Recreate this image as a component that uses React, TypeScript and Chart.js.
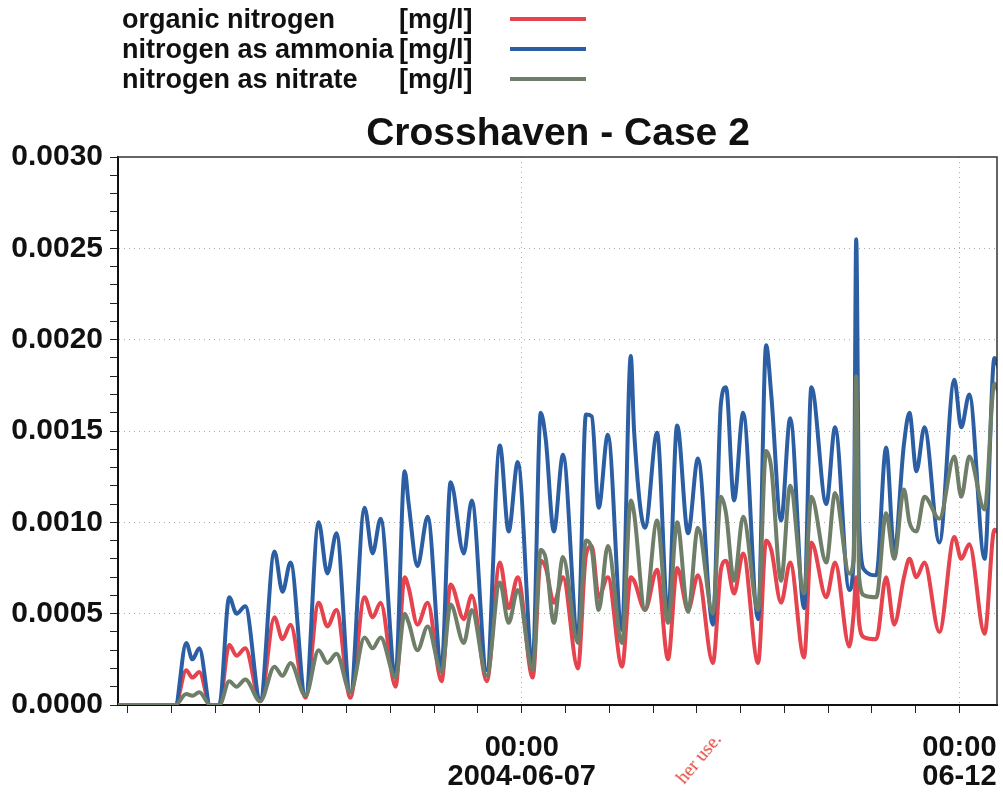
import React, { useEffect, useRef } from "react";
import { Chart, registerables } from "chart.js";

Chart.register(...registerables);

// ---- data (hours since 2004-06-02 00:00) ----
const hours = [
  9.3, 25.0, 28.0, 29.7, 31.6, 34.6, 37.1, 39.8, 41.8, 44.2, 48.3, 52.2, 54.4, 56.6, 60.7,
  64.3, 66.7, 69.2, 73.0, 76.9, 79.1, 81.3, 85.4, 87.9, 89.0, 91.4, 94.2, 98.0, 100.5, 104.1,
  106.3, 110.4, 114.0, 116.4, 118.9, 123.0, 125.2, 126.6, 128.8, 131.3, 135.4, 137.6, 139.2,
  141.1, 143.6, 147.5, 149.9, 150.8, 153.8, 157.1, 160.1, 162.6, 165.6, 168.3, 172.4, 174.6,
  176.0, 178.2, 180.7, 184.8, 187.0, 188.4, 191.1, 193.6, 197.4, 199.4, 203.5, 205.9, 209.8,
  211.0, 211.7, 212.5, 213.9, 217.2, 219.9, 222.1, 224.8, 226.3, 228.2, 230.4, 234.5, 238.6,
  240.5, 242.7, 246.9, 249.6, 251.0,
];

const organicNitrogen = [
  0, 0, 0.00019, 0.00015, 0.00018, 0, 0, 0.00033, 0.00027, 0.00031, 0.00002, 0.00048, 0.00036,
  0.00044, 0.00004, 0.00056, 0.00043, 0.00052, 0.00004, 0.00059, 0.00048, 0.00056, 0.0001,
  0.0007, 0.00064, 0.00044, 0.00056, 0.00013, 0.00066, 0.00047, 0.0006, 0.00013, 0.00078,
  0.00053, 0.0007, 0.00015, 0.00079, 0.00075, 0.00056, 0.0007, 0.0002, 0.00082, 0.00087,
  0.00059, 0.0007, 0.00021, 0.0007, 0.00068, 0.00052, 0.00074, 0.00025, 0.00075, 0.00052,
  0.00071, 0.00023, 0.00074, 0.00079, 0.00061, 0.00083, 0.00023, 0.0009, 0.00085, 0.00056,
  0.00078, 0.00026, 0.00089, 0.00059, 0.00078, 0.00032, 0.0005, 0.0007, 0.00045, 0.00037,
  0.00036, 0.0007, 0.00044, 0.0007, 0.0008, 0.0007, 0.00078, 0.0004, 0.00092, 0.0008, 0.00088,
  0.00039, 0.00096, 0.00094,
];

const ammoniaNitrogen = [
  0, 0, 0.00034, 0.00025, 0.00031, 0, 0, 0.00059, 0.0005, 0.00054, 0.00003, 0.00084, 0.00062,
  0.00078, 0.00005, 0.001, 0.00072, 0.00094, 0.00007, 0.00108, 0.00083, 0.00102, 0.00016,
  0.00128, 0.0011, 0.00076, 0.00103, 0.00021, 0.00122, 0.00083, 0.00112, 0.00019, 0.00142,
  0.00095, 0.00133, 0.00023, 0.0016, 0.00145, 0.00095, 0.00137, 0.00037, 0.00159, 0.00158,
  0.00108, 0.00148, 0.00041, 0.00191, 0.0015, 0.00097, 0.00149, 0.00048, 0.00153, 0.00094,
  0.00135, 0.00044, 0.00165, 0.00174, 0.00112, 0.0016, 0.00047, 0.00197, 0.0017, 0.00101,
  0.00157, 0.00053, 0.00174, 0.0011, 0.00152, 0.00063, 0.0008, 0.00255, 0.001, 0.00074,
  0.00071, 0.00141, 0.00085, 0.00143, 0.0016, 0.00128, 0.00152, 0.00089, 0.00178, 0.00152,
  0.0017, 0.0008, 0.0019, 0.00183,
];

const nitrateNitrogen = [
  0, 0, 0.00006, 0.00005, 0.00007, 0, 0, 0.00013, 0.0001, 0.00014, 0.00002, 0.00021, 0.00016,
  0.00023, 0.00005, 0.0003, 0.00023, 0.00028, 0.00007, 0.00037, 0.00031, 0.00037, 0.00015,
  0.0005, 0.00045, 0.0003, 0.00043, 0.00018, 0.00055, 0.00034, 0.00052, 0.00016, 0.00067,
  0.00045, 0.00063, 0.00019, 0.00085, 0.0008, 0.00045, 0.00081, 0.00034, 0.0009, 0.00085,
  0.00052, 0.00087, 0.00034, 0.00112, 0.00105, 0.00052, 0.00101, 0.00045, 0.001, 0.00051,
  0.00097, 0.0005, 0.00114, 0.00105, 0.00068, 0.00103, 0.00052, 0.00139, 0.0013, 0.00068,
  0.0012, 0.00061, 0.00114, 0.00078, 0.00116, 0.00072, 0.0008, 0.0018, 0.0007, 0.0006,
  0.00059, 0.00105, 0.0008, 0.00118, 0.001, 0.00095, 0.00114, 0.00102, 0.00136, 0.00114,
  0.00136, 0.00107, 0.00176, 0.0017,
];

const seriesNames = ["organic nitrogen", "nitrogen as ammonia", "nitrogen as nitrate"];
const seriesUnit = "[mg/l]";
const chartTitle = "Crosshaven - Case 2";

const xTickHours = [12, 24, 36, 48, 60, 72, 84, 96, 108, 120, 132, 144, 156, 168, 180, 192, 204, 216, 228, 240];
const xLabelHours = [120, 240];
const xLabels = [["00:00", "2004-06-07"], ["00:00", "06-12"]];
const yMajorTicks = [0, 0.0005, 0.001, 0.0015, 0.002, 0.0025, 0.003];
const yMinorStep = 0.0001;

const RED = "#e5434d";
const BLUE = "#2b5ea3";
const GREY = "#6e7e69";
const GRID = "rgba(90,90,90,0.5)";
const FONT = '"Liberation Sans", Arial, Helvetica, sans-serif';

export default function App() {
  const canvasRef = useRef<HTMLCanvasElement | null>(null);

  useEffect(() => {
    document.body.style.margin = "0";
    const canvas = canvasRef.current;
    if (!canvas) return;

    const yTickValues: number[] = [];
    const nMinor = Math.round(yMajorTicks[yMajorTicks.length - 1] / yMinorStep);
    for (let i = 0; i <= nMinor; i++) yTickValues.push(Math.round(i) / 10000);

    const framePlugin = {
      id: "frame",
      afterDraw(chart: any) {
        const { ctx, chartArea } = chart;
        ctx.save();
        ctx.strokeStyle = "#333";
        ctx.lineWidth = 1.5;
        ctx.beginPath();
        ctx.moveTo(chartArea.left, chartArea.top);
        ctx.lineTo(chartArea.right, chartArea.top);
        ctx.lineTo(chartArea.right, chartArea.bottom);
        ctx.stroke();
        ctx.restore();
      },
    };

    const mk = (vals: number[]) => hours.map((h, i) => ({ x: h, y: vals[i] }));
    const ds = (label: string, vals: number[], color: string, order: number) => ({
      label,
      data: mk(vals),
      borderColor: color,
      borderWidth: 4,
      pointRadius: 0,
      cubicInterpolationMode: "monotone",
      order,
    });

    const chart = new Chart(canvas, {
      type: "line",
      data: {
        datasets: [
          ds(seriesNames[0], organicNitrogen, RED, 2),
          ds(seriesNames[1], ammoniaNitrogen, BLUE, 1),
          ds(seriesNames[2], nitrateNitrogen, GREY, 0),
        ],
      },
      options: {
        responsive: false,
        animation: false,
        events: [],
        layout: { padding: { top: 157, right: 6, left: 0, bottom: 0 } },
        plugins: {
          legend: { display: false },
          title: { display: false },
          tooltip: { enabled: false },
        },
        scales: {
          x: {
            type: "linear",
            min: 9.3,
            max: 250.3,
            afterBuildTicks: (s: any) => {
              s.ticks = xTickHours.map((v) => ({ value: v }));
            },
            afterFit: (s: any) => {
              s.height = 87;
              s.paddingLeft = 0;
              s.paddingRight = 0;
            },
            ticks: {
              autoSkip: false,
              maxRotation: 0,
              minRotation: 0,
              padding: 20,
              color: "#111",
              font: { family: FONT, size: 29, weight: "bold", lineHeight: 1.0 },
              callback: (v: any) => {
                const i = xLabelHours.indexOf(Number(v));
                return i >= 0 ? xLabels[i] : "";
              },
            },
            grid: {
              color: (c: any) => (c.tick && xLabelHours.includes(c.tick.value) ? GRID : "transparent"),
              tickColor: "#222",
              tickLength: 8,
              lineWidth: 1,
            },
            border: { display: true, color: "#111", width: 2, dash: [1, 4] },
          },
          y: {
            type: "linear",
            min: 0,
            max: 0.003,
            afterBuildTicks: (s: any) => {
              s.ticks = yTickValues.map((v) => ({ value: v }));
            },
            afterFit: (s: any) => {
              s.width = 118;
            },
            ticks: {
              autoSkip: false,
              padding: 7,
              color: "#111",
              font: { family: FONT, size: 30, weight: "bold" },
              callback: (v: any, i: number) => (i % 5 === 0 ? Number(v).toFixed(4) : ""),
            },
            grid: {
              color: (c: any) => (c.index % 5 === 0 && c.index !== 0 && c.index !== 30 ? GRID : "transparent"),
              tickColor: "#222",
              tickLength: 8,
              lineWidth: 1,
            },
            border: { display: true, color: "#111", width: 2, dash: [1, 4] },
          },
        },
      },
      plugins: [framePlugin],
    } as any);

    return () => chart.destroy();
  }, []);

  const colors = [RED, BLUE, GREY];
  const legendRowTop = [4, 34, 64];

  return (
    <div style={{ position: "relative", width: 1003, height: 792, background: "#fff", overflow: "hidden" }}>
      <canvas ref={canvasRef} width={1003} height={792} style={{ position: "absolute", left: 0, top: 0 }} />
      {seriesNames.map((name, i) => (
        <div key={name}>
          <div
            style={{
              position: "absolute",
              left: 122,
              top: legendRowTop[i],
              font: `bold 27px ${FONT}`,
              lineHeight: "30px",
              color: "#111",
              whiteSpace: "nowrap",
            }}
          >
            {name}
          </div>
          <div
            style={{
              position: "absolute",
              left: 399,
              top: legendRowTop[i],
              font: `bold 27px ${FONT}`,
              lineHeight: "30px",
              color: "#111",
              whiteSpace: "nowrap",
            }}
          >
            {seriesUnit}
          </div>
          <div
            style={{
              position: "absolute",
              left: 510,
              top: legendRowTop[i] + 13,
              width: 76,
              height: 4,
              background: colors[i],
            }}
          />
        </div>
      ))}
      <div
        style={{
          position: "absolute",
          left: 0,
          width: 1116,
          top: 112,
          textAlign: "center",
          font: `bold 39px ${FONT}`,
          lineHeight: "39px",
          color: "#111",
          whiteSpace: "nowrap",
        }}
      >
        {chartTitle}
      </div>
      <div
        style={{
          position: "absolute",
          left: 688,
          top: 766,
          transform: "rotate(-50deg)",
          transformOrigin: "left bottom",
          font: `19px "Liberation Serif", serif`,
          color: "#e0463c",
          whiteSpace: "nowrap",
        }}
      >
        her use.
      </div>
    </div>
  );
}
